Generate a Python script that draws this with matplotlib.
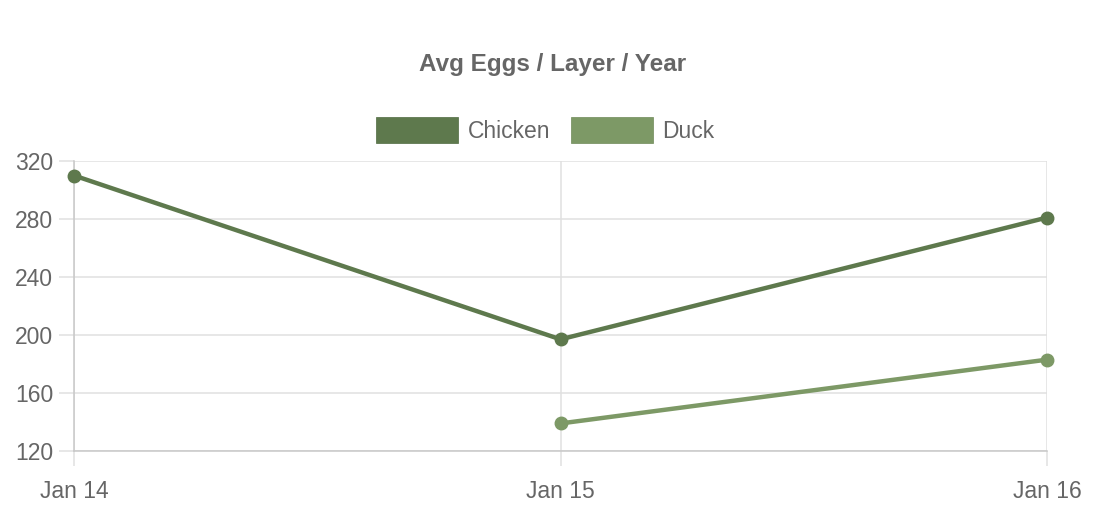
import matplotlib
matplotlib.use("Agg")
import matplotlib.pyplot as plt
from matplotlib.patches import Patch

# data
years = ["Jan 14", "Jan 15", "Jan 16"]
chicken = [310, 197, 281]
duck = [None, 139, 183]
y_ticks = [120, 160, 200, 240, 280, 320]

CHICKEN_COLOR = "#5e794d"
DUCK_COLOR = "#7d9966"
TEXT_COLOR = "#666666"

plt.rcParams["font.family"] = ["Liberation Sans", "DejaVu Sans"]

fig = plt.figure(figsize=(11.06, 5.30), dpi=100)
ax = fig.add_axes([74 / 1106, 1 - 451 / 530, (1047 - 74) / 1106, (451 - 161) / 530])

x = list(range(len(years)))
ax.plot(x, chicken, color=CHICKEN_COLOR, lw=3.2, marker="o", ms=9, zorder=3,
        solid_capstyle="round", clip_on=False)
duck_x = [i for i, v in zip(x, duck) if v is not None]
duck_y = [v for v in duck if v is not None]
ax.plot(duck_x, duck_y, color=DUCK_COLOR, lw=3.2, marker="o", ms=9, zorder=3,
        solid_capstyle="round", clip_on=False)

ax.set_xlim(0, len(years) - 1)
ax.set_ylim(120, 320)
ax.set_xticks(x)
ax.set_xticklabels(years)
ax.set_yticks(y_ticks)

ax.grid(True, color="#e0e0e0", lw=1.1, zorder=0)
ax.set_axisbelow(True)
for side in ["top", "right"]:
    ax.spines[side].set_visible(False)
for side in ["left", "bottom"]:
    ax.spines[side].set_color("#c8c8c8")
    ax.spines[side].set_linewidth(1.1)

ax.tick_params(axis="both", colors="#e0e0e0", labelcolor=TEXT_COLOR,
               labelsize=16.5, length=11, width=1.1)
ax.tick_params(axis="y", pad=4)
ax.tick_params(axis="x", pad=10)

fig.text(0.5, 1 - 64 / 530, "Avg Eggs / Layer / Year", ha="center", va="center",
         fontsize=17.5, fontweight="bold", color=TEXT_COLOR)

handles = [Patch(facecolor=CHICKEN_COLOR, edgecolor="#4f6a40", lw=0.5, label="Chicken"),
           Patch(facecolor=DUCK_COLOR, edgecolor="#6e8a58", lw=0.5, label="Duck")]
fig.legend(handles=handles, loc="center", bbox_to_anchor=(0.493, 1 - 130 / 530),
           ncol=2, frameon=False, fontsize=16.5, labelcolor=TEXT_COLOR,
           handlelength=3.6, handleheight=1.4, handletextpad=0.4,
           columnspacing=0.9)

fig.savefig("out.png", dpi=100, facecolor="white")
